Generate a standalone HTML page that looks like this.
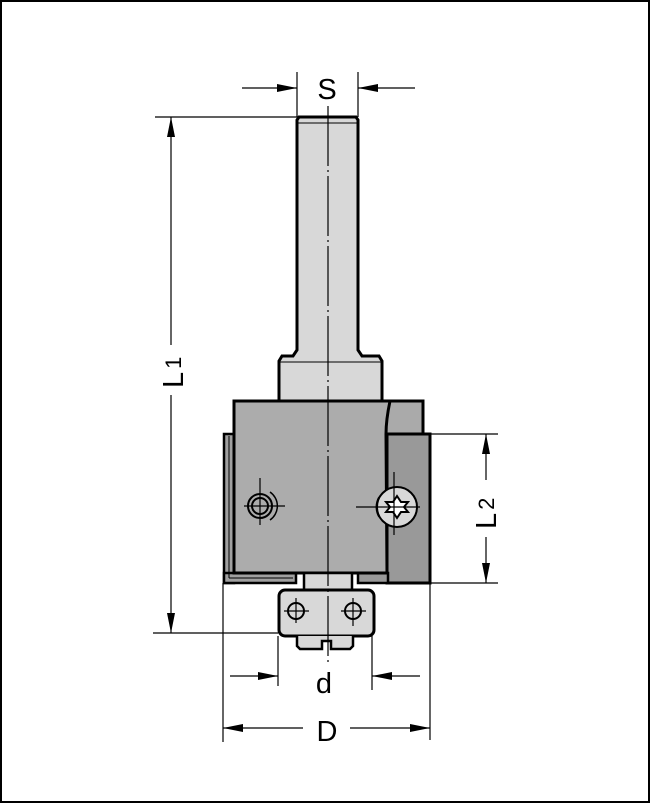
<!DOCTYPE html>
<html><head><meta charset="utf-8"><style>
html,body{margin:0;padding:0;background:#fff}
svg{display:block}
text{font-family:"Liberation Sans",sans-serif;fill:#000}
</style></head><body>
<svg width="650" height="803" viewBox="0 0 650 803" xmlns="http://www.w3.org/2000/svg">
<defs>
<marker id="b" viewBox="0 0 20 8" refX="20" refY="4" markerWidth="20" markerHeight="8" orient="auto-start-reverse" markerUnits="userSpaceOnUse">
<path d="M0,0 L20,4 L0,8 z" fill="#000"/></marker>
</defs>
<rect x="1" y="1" width="648" height="801" fill="#fff" stroke="#000" stroke-width="2"/>

<!-- shank -->
<path d="M297,120 L299,117 L356,117 L358,120 L358,350 L362,356 L379,356 L382,361 L382,401 L279,401 L279,361 L282,356 L293,356 L297,350 Z" fill="#d8d8d8" stroke="#000" stroke-width="3"/>
<line x1="297" y1="123" x2="358" y2="123" stroke="#000" stroke-width="1"/>
<line x1="280" y1="362" x2="381" y2="362" stroke="#000" stroke-width="1"/>
<!-- left plate -->
<rect x="224" y="434" width="10" height="149" fill="#a0a0a0" stroke="#000" stroke-width="2.5"/>
<rect x="224" y="573" width="72" height="10" fill="#a0a0a0" stroke="#000" stroke-width="2.5"/>
<line x1="229" y1="436" x2="229" y2="578" stroke="#000" stroke-width="1"/>
<line x1="229" y1="578" x2="293" y2="578" stroke="#000" stroke-width="1"/>
<!-- right darker block -->
<rect x="386" y="401" width="37" height="33" fill="#aaa" stroke="#000" stroke-width="3"/>
<rect x="387" y="434" width="43" height="149" fill="#999" stroke="#000" stroke-width="3"/>
<rect x="358" y="573" width="30" height="10" fill="#999" stroke="#000" stroke-width="2.5"/>
<!-- main body -->
<path d="M234,401 L390,401 Q386,420 386,434 L387,573 L234,573 Z" fill="#acacac" stroke="#000" stroke-width="3"/>
<!-- spindle -->
<rect x="304" y="573" width="48" height="18" fill="#d8d8d8" stroke="#000" stroke-width="2.5"/>
<!-- bearing block -->
<rect x="279" y="590" width="95" height="46" rx="6" fill="#d8d8d8" stroke="#000" stroke-width="3"/>
<path d="M297,636 L297,646 L300,649 L322,649 L322,641 L331,641 L331,649 L350,649 L353,646 L353,636" fill="#d8d8d8" stroke="#000" stroke-width="2.5"/>
<!-- screws -->
<g stroke="#000" fill="none">
<circle cx="260" cy="506" r="12" stroke-width="2"/><circle cx="260" cy="506" r="8" stroke-width="2"/>
<path d="M270,492 A17,17 0 0 1 270,520" stroke-width="1.5"/>
<line x1="244" y1="506" x2="285" y2="506" stroke-width="1.2"/><line x1="260" y1="478" x2="260" y2="525" stroke-width="1.2"/>
<circle cx="397" cy="507" r="20" fill="#d8d8d8" stroke-width="2"/>
<path d="M379,497 A20,20 0 0 0 379,517" stroke-width="1.5"/>
<path d="M397,496 L401,502 L408,502 L404,507 L408,512 L401,512 L397,518 L393,512 L386,512 L390,507 L386,502 L393,502 Z" fill="#fff" stroke-width="2"/>
<line x1="356" y1="507" x2="420" y2="507" stroke-width="1.2"/><line x1="394" y1="472" x2="394" y2="535" stroke-width="1.2"/>
<circle cx="296" cy="611" r="8" stroke-width="2"/><line x1="284" y1="611" x2="309" y2="611" stroke-width="1.2"/><line x1="296" y1="598" x2="296" y2="623" stroke-width="1.2"/>
<circle cx="353" cy="611" r="8" stroke-width="2"/><line x1="341" y1="611" x2="366" y2="611" stroke-width="1.2"/><line x1="353" y1="598" x2="353" y2="626" stroke-width="1.2"/>
</g>
<!-- centerline -->
<line x1="328" y1="106" x2="328" y2="665" stroke="#000" stroke-width="1.2" stroke-dasharray="60,4,2,4"/>

<!-- dimensions -->
<g stroke="#000" stroke-width="1.2" fill="none">
<line x1="297" y1="72" x2="297" y2="117"/><line x1="358" y1="72" x2="358" y2="117"/>
<line x1="242" y1="88" x2="297" y2="88" marker-end="url(#b)"/>
<line x1="415" y1="88" x2="358" y2="88" marker-end="url(#b)"/>
<line x1="155" y1="117" x2="297" y2="117"/><line x1="153" y1="633" x2="278" y2="633"/>
<line x1="171" y1="345" x2="171" y2="117" marker-end="url(#b)"/>
<line x1="171" y1="395" x2="171" y2="633" marker-end="url(#b)"/>
<line x1="431" y1="434" x2="498" y2="434"/><line x1="431" y1="583" x2="498" y2="583"/>
<line x1="486" y1="480" x2="486" y2="434" marker-end="url(#b)"/>
<line x1="486" y1="537" x2="486" y2="583" marker-end="url(#b)"/>
<line x1="278" y1="636" x2="278" y2="686"/><line x1="372" y1="636" x2="372" y2="690"/>
<line x1="230" y1="676" x2="278" y2="676" marker-end="url(#b)"/>
<line x1="420" y1="676" x2="372" y2="676" marker-end="url(#b)"/>
<line x1="223" y1="583" x2="223" y2="742"/><line x1="430" y1="583" x2="430" y2="740"/>
<line x1="303" y1="728" x2="223" y2="728" marker-end="url(#b)"/>
<line x1="350" y1="728" x2="430" y2="728" marker-end="url(#b)"/>
</g>
<text x="327" y="99" font-size="29" text-anchor="middle">S</text>
<text x="324" y="693" font-size="29" text-anchor="middle">d</text>
<text x="327" y="741" font-size="29" text-anchor="middle">D</text>
<text transform="translate(183,388) rotate(-90)" font-size="29">L<tspan font-size="22" dx="3" dy="-2">1</tspan></text>
<text transform="translate(496,529) rotate(-90)" font-size="29">L<tspan font-size="22" dx="3" dy="-2">2</tspan></text>
</svg>
</body></html>
